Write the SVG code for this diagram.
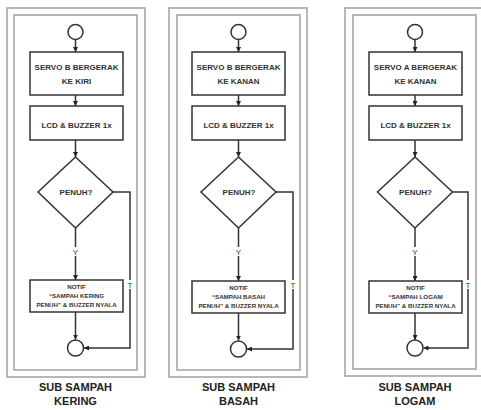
<svg xmlns="http://www.w3.org/2000/svg" width="481" height="410" viewBox="0 0 481 410">
<defs>
<marker id="ah" viewBox="0 0 10 10" refX="10" refY="5" markerWidth="5" markerHeight="5" markerUnits="userSpaceOnUse" orient="auto"><path d="M0,0 L10,5 L0,10 z" fill="#222"/></marker>
<style>
.frame{fill:none;stroke:#a6a6a6;stroke-width:1.6}
.node{fill:#fff;stroke:#333;stroke-width:1.5}
.conn{fill:none;stroke:#333;stroke-width:1.5}
.arr{marker-end:url(#ah)}
.t{font-family:"Liberation Sans",Arial,sans-serif;font-weight:bold;fill:#333;text-anchor:middle}
.b{font-size:8px}
.s{font-size:6.2px}
.lbl{font-family:"Liberation Sans",Arial,sans-serif;font-size:8px;fill:#333;text-anchor:middle}
.cap{font-family:"Liberation Sans",Arial,sans-serif;font-weight:bold;font-size:11px;fill:#222;text-anchor:middle}
</style>
</defs>
<rect width="481" height="410" fill="#fff"/>

<!-- Panel 1 -->
<g id="panel-kering">
<rect class="frame" x="7" y="8" width="138" height="369"/>
<rect class="frame" x="14" y="15" width="123" height="355"/>
<g id="k-connectors">
<line class="conn arr" x1="75.5" y1="39.5" x2="75.5" y2="52"/>
<line class="conn arr" x1="75.5" y1="95" x2="75.5" y2="106"/>
<line class="conn arr" x1="75.5" y1="140" x2="75.5" y2="157"/>
<line class="conn arr" x1="75.5" y1="228" x2="75.5" y2="280"/>
<line class="conn arr" x1="75.5" y1="312" x2="75.5" y2="339.5"/>
<polyline class="conn arr" points="113,192 130,192 130,348 84,348"/>
<rect x="71" y="247" width="9" height="9" fill="#fff"/>
<text class="lbl" x="75.5" y="255">Y</text>
<rect x="126" y="280" width="9" height="9" fill="#fff"/>
<text class="lbl" x="130" y="288">T</text>
</g>
<g id="k-start"><circle class="node" cx="75.5" cy="32" r="7.5"/></g>
<g id="k-servo"><rect class="node" x="30" y="52" width="93" height="43"/>
<text class="t b" x="76.5" y="70">SERVO B BERGERAK</text><text class="t b" x="76.5" y="84">KE KIRI</text></g>
<g id="k-lcd"><rect class="node" x="30" y="106" width="93" height="34"/>
<text class="t b" x="76.5" y="128">LCD &amp; BUZZER 1x</text></g>
<g id="k-penuh"><polygon class="node" points="75.5,157 113,192 75.5,228 38,192"/>
<text class="t b" x="76" y="195">PENUH?</text></g>
<g id="k-notif"><rect class="node" x="30" y="280" width="93" height="32"/>
<text class="t s" x="76.5" y="288.5">NOTIF</text><text class="t s" x="76.5" y="297.5">“SAMPAH KERING</text><text class="t s" x="76.5" y="307">PENUH” &amp; BUZZER NYALA</text></g>
<g id="k-end"><circle class="node" cx="75.5" cy="348" r="8"/></g>
<text class="cap" x="75.5" y="391">SUB SAMPAH</text>
<text class="cap" x="75.5" y="405">KERING</text>
</g>

<!-- Panel 2 -->
<g id="panel-basah" transform="translate(163,0)">
<rect class="frame" x="6" y="8" width="138" height="369"/>
<rect class="frame" x="14" y="15" width="123" height="355"/>
<g id="b-connectors">
<line class="conn arr" x1="75.5" y1="39.5" x2="75.5" y2="52"/>
<line class="conn arr" x1="75.5" y1="95" x2="75.5" y2="106"/>
<line class="conn arr" x1="75.5" y1="140" x2="75.5" y2="157"/>
<line class="conn arr" x1="75.5" y1="228" x2="75.5" y2="281"/>
<line class="conn arr" x1="75.5" y1="313" x2="75.5" y2="340.5"/>
<polyline class="conn arr" points="113,192 130,192 130,349 84,349"/>
<rect x="71" y="247" width="9" height="9" fill="#fff"/>
<text class="lbl" x="75.5" y="255">Y</text>
<rect x="126" y="280" width="9" height="9" fill="#fff"/>
<text class="lbl" x="130" y="288">T</text>
</g>
<g id="b-start"><circle class="node" cx="75.5" cy="32" r="7.5"/></g>
<g id="b-servo"><rect class="node" x="29" y="52" width="93" height="43"/>
<text class="t b" x="75.5" y="70">SERVO B BERGERAK</text><text class="t b" x="75.5" y="84">KE KANAN</text></g>
<g id="b-lcd"><rect class="node" x="29" y="106" width="93" height="34"/>
<text class="t b" x="75.5" y="128">LCD &amp; BUZZER 1x</text></g>
<g id="b-penuh"><polygon class="node" points="75.5,157 113,192 75.5,228 38,192"/>
<text class="t b" x="76" y="195">PENUH?</text></g>
<g id="b-notif"><rect class="node" x="29" y="281" width="93" height="32"/>
<text class="t s" x="75.5" y="289.5">NOTIF</text><text class="t s" x="75.5" y="298.5">“SAMPAH BASAH</text><text class="t s" x="75.5" y="308">PENUH” &amp; BUZZER NYALA</text></g>
<g id="b-end"><circle class="node" cx="75.5" cy="349" r="8"/></g>
<text class="cap" x="75.5" y="391">SUB SAMPAH</text>
<text class="cap" x="75.5" y="405">BASAH</text>
</g>

<!-- Panel 3 -->
<g id="panel-logam" transform="translate(339,0)">
<rect class="frame" x="6" y="8" width="140" height="368"/>
<rect class="frame" x="14" y="15" width="123" height="354"/>
<g id="l-connectors">
<line class="conn arr" x1="76" y1="39.5" x2="76" y2="52"/>
<line class="conn arr" x1="76" y1="95" x2="76" y2="106"/>
<line class="conn arr" x1="76" y1="140" x2="76" y2="157"/>
<line class="conn arr" x1="76" y1="228" x2="76" y2="281"/>
<line class="conn arr" x1="76" y1="313" x2="76" y2="340"/>
<polyline class="conn arr" points="113.5,192 129,192 129,348 84.5,348"/>
<rect x="71.5" y="247" width="9" height="9" fill="#fff"/>
<text class="lbl" x="76" y="255">Y</text>
<rect x="124.5" y="280" width="9" height="9" fill="#fff"/>
<text class="lbl" x="129" y="288">T</text>
</g>
<g id="l-start"><circle class="node" cx="76" cy="32" r="7.5"/></g>
<g id="l-servo"><rect class="node" x="30" y="52" width="93" height="43"/>
<text class="t b" x="76.5" y="70">SERVO A BERGERAK</text><text class="t b" x="76.5" y="84">KE KANAN</text></g>
<g id="l-lcd"><rect class="node" x="30" y="106" width="93" height="34"/>
<text class="t b" x="76.5" y="128">LCD &amp; BUZZER 1x</text></g>
<g id="l-penuh"><polygon class="node" points="76,157 113.5,192 76,228 38.5,192"/>
<text class="t b" x="76.5" y="195">PENUH?</text></g>
<g id="l-notif"><rect class="node" x="30" y="281" width="93" height="32"/>
<text class="t s" x="76.5" y="289.5">NOTIF</text><text class="t s" x="76.5" y="298.5">“SAMPAH LOGAM</text><text class="t s" x="76.5" y="308">PENUH” &amp; BUZZER NYALA</text></g>
<g id="l-end"><circle class="node" cx="76" cy="348" r="8"/></g>
<text class="cap" x="76" y="391">SUB SAMPAH</text>
<text class="cap" x="76" y="405">LOGAM</text>
</g>
</svg>
